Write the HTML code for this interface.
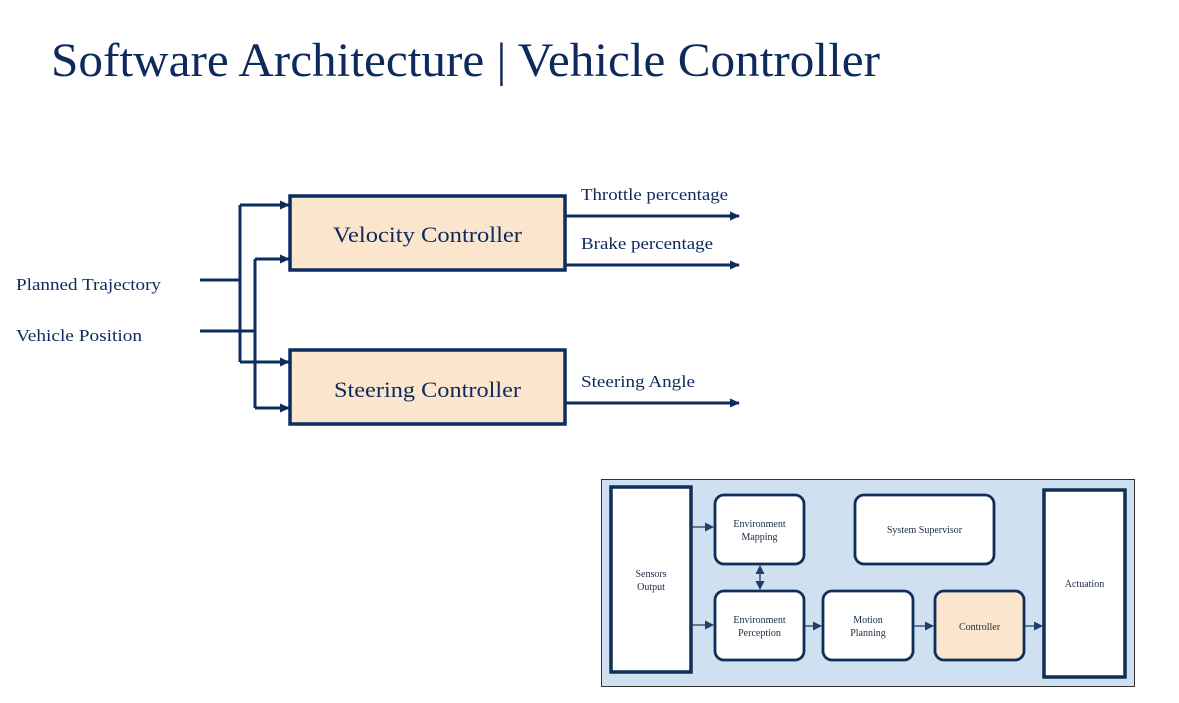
<!DOCTYPE html>
<html><head><meta charset="utf-8"><style>
html,body{margin:0;padding:0;background:#fff;width:1179px;height:703px;overflow:hidden}
svg{display:block}
</style></head><body>
<svg width="1179" height="703" viewBox="0 0 1179 703" xmlns="http://www.w3.org/2000/svg" font-family="Liberation Serif, serif">
<defs>
<marker id="a" markerWidth="10" markerHeight="10" refX="9" refY="5" orient="auto" markerUnits="userSpaceOnUse"><path d="M0,0.5 L10,5 L0,9.5 z" fill="#0b2d5e"/></marker>
<marker id="b" markerWidth="9" markerHeight="9" refX="8" refY="4.5" orient="auto" markerUnits="userSpaceOnUse"><path d="M0,0 L9,4.5 L0,9 z" fill="#1f3f66"/></marker>
<marker id="bs" markerWidth="9" markerHeight="9" refX="1" refY="4.5" orient="auto" markerUnits="userSpaceOnUse"><path d="M9,0 L0,4.5 L9,9 z" fill="#1f3f66"/></marker>
</defs>
<text x="51" y="76" font-size="48" fill="#0e2a5c" textLength="829" lengthAdjust="spacingAndGlyphs">Software Architecture | Vehicle Controller</text>

<g stroke="#0b2d5e" stroke-width="3" fill="none">
<path d="M200 280 H240 M200 331 H255"/>
<path d="M240 205 V362"/>
<path d="M255 259 V408"/>
<path d="M240 205 H289" marker-end="url(#a)"/>
<path d="M240 362 H289" marker-end="url(#a)"/>
<path d="M255 259 H289" marker-end="url(#a)"/>
<path d="M255 408 H289" marker-end="url(#a)"/>
<path d="M565 216 H739" marker-end="url(#a)"/>
<path d="M565 265 H739" marker-end="url(#a)"/>
<path d="M565 403 H739" marker-end="url(#a)"/>
</g>
<rect x="290" y="196" width="275" height="74" fill="#fce5cd" stroke="#0b2d5e" stroke-width="3.5"/>
<rect x="290" y="350" width="275" height="74" fill="#fce5cd" stroke="#0b2d5e" stroke-width="3.5"/>
<g fill="#0e2a5c">
<text x="333" y="242" font-size="22" textLength="189" lengthAdjust="spacingAndGlyphs">Velocity Controller</text>
<text x="334" y="397" font-size="22" textLength="187" lengthAdjust="spacingAndGlyphs">Steering Controller</text>
<text x="16" y="290" font-size="17" textLength="145" lengthAdjust="spacingAndGlyphs">Planned Trajectory</text>
<text x="16" y="341" font-size="17" textLength="126" lengthAdjust="spacingAndGlyphs">Vehicle Position</text>
<text x="581" y="200" font-size="17" textLength="147" lengthAdjust="spacingAndGlyphs">Throttle percentage</text>
<text x="581" y="249" font-size="17" textLength="132" lengthAdjust="spacingAndGlyphs">Brake percentage</text>
<text x="581" y="387" font-size="17" textLength="114" lengthAdjust="spacingAndGlyphs">Steering Angle</text>
</g>

<rect x="601.5" y="479.5" width="533" height="207" fill="#cfe0f1" stroke="#333" stroke-width="1"/>
<g stroke="#0f2f58" stroke-width="3.5">
<rect x="611" y="487" width="80" height="185" fill="#fff"/>
<rect x="1044" y="490" width="81" height="187" fill="#fff"/>
<rect x="715" y="495" width="89" height="69" rx="9" fill="#fff" stroke-width="2.8"/>
<rect x="855" y="495" width="139" height="69" rx="9" fill="#fff" stroke-width="2.8"/>
<rect x="715" y="591" width="89" height="69" rx="9" fill="#fff" stroke-width="2.8"/>
<rect x="823" y="591" width="90" height="69" rx="9" fill="#fff" stroke-width="2.8"/>
<rect x="935" y="591" width="89" height="69" rx="9" fill="#fce5cd" stroke-width="2.8"/>
</g>
<g stroke="#1f3f66" stroke-width="1.3" fill="none">
<path d="M691 527 H713" marker-end="url(#b)"/>
<path d="M691 625 H713" marker-end="url(#b)"/>
<path d="M804 626 H821" marker-end="url(#b)"/>
<path d="M913 626 H933" marker-end="url(#b)"/>
<path d="M1024 626 H1042" marker-end="url(#b)"/>
<path d="M760 566 V589" marker-start="url(#bs)" marker-end="url(#b)"/>
</g>
<g fill="#1a2a44" font-size="10" text-anchor="middle">
<text x="651" y="577">Sensors</text><text x="651" y="590">Output</text>
<text x="759.5" y="527">Environment</text><text x="759.5" y="540">Mapping</text>
<text x="924.5" y="533">System Supervisor</text>
<text x="759.5" y="623">Environment</text><text x="759.5" y="636">Perception</text>
<text x="868" y="623">Motion</text><text x="868" y="636">Planning</text>
<text x="979.5" y="630">Controller</text>
<text x="1084.5" y="587">Actuation</text>
</g>
</svg>
</body></html>
